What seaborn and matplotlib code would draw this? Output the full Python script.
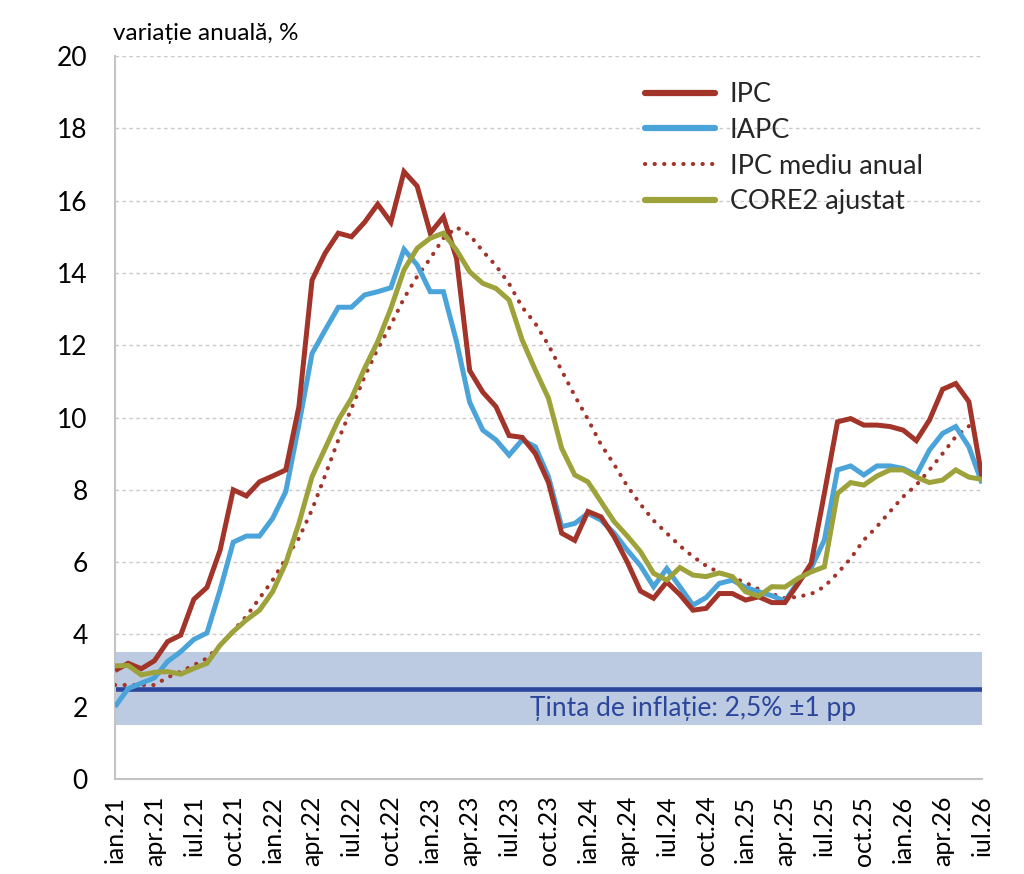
import numpy as np
import pandas as pd
import matplotlib
matplotlib.use("Agg")
import matplotlib.pyplot as plt
import matplotlib.transforms as mtransforms
import seaborn as sns

# ---------------- data ----------------
months = ["ian", "feb", "mar", "apr", "mai", "iun", "iul", "aug", "sep", "oct", "nov", "dec"]
years = [21, 22, 23, 24, 25, 26]
period_labels = [f"{m}.{y}" for y in years for m in months][:67]   # ian.21 .. iul.26

ipc = [3.0, 3.2, 3.05, 3.27, 3.8, 3.98, 4.97, 5.3, 6.33, 8.0, 7.83, 8.22,
       8.38, 8.55, 10.3, 13.8, 14.55, 15.1, 15.0, 15.4, 15.9, 15.4, 16.8, 16.4,
       15.1, 15.55, 14.4, 11.3, 10.7, 10.3, 9.5, 9.45, 9.0, 8.2, 6.8, 6.6,
       7.4, 7.25, 6.7, 6.0, 5.2, 5.0, 5.45, 5.1, 4.67, 4.72, 5.13, 5.13,
       4.95, 5.04, 4.88, 4.88, 5.4, 5.97, 7.9, 9.88, 9.97, 9.79, 9.79, 9.75,
       9.65, 9.36, 9.93, 10.78, 10.94, 10.44, 8.35]

iapc = [2.0, 2.5, 2.65, 2.8, 3.25, 3.52, 3.86, 4.04, 5.23, 6.55, 6.72, 6.72,
        7.21, 7.95, 9.8, 11.77, 12.42, 13.05, 13.05, 13.39, 13.48, 13.59, 14.65, 14.22,
        13.48, 13.48, 12.1, 10.42, 9.65, 9.38, 8.96, 9.38, 9.19, 8.36, 6.98, 7.07,
        7.35, 7.16, 6.8, 6.33, 5.9, 5.32, 5.82, 5.32, 4.81, 5.02, 5.41, 5.5,
        5.3, 5.18, 5.07, 4.92, 5.46, 5.84, 6.61, 8.55, 8.66, 8.41, 8.66, 8.66,
        8.59, 8.41, 9.1, 9.56, 9.75, 9.19, 8.18]

ipc_mediu = [2.6, 2.6, 2.6, 2.6, 2.81, 2.97, 3.15, 3.34, 3.7, 4.1, 4.5, 5.0,
             5.5, 6.1, 6.66, 7.45, 8.4, 9.38, 10.25, 11.13, 11.9, 12.56, 13.3, 13.9,
             14.4, 14.96, 15.26, 15.05, 14.6, 14.2, 13.7, 13.05, 12.6, 12.0, 11.3, 10.6,
             9.95, 9.25, 8.7, 8.1, 7.6, 7.15, 6.8, 6.45, 6.15, 5.9, 5.71, 5.58,
             5.43, 5.25, 5.12, 5.0, 5.04, 5.12, 5.32, 5.69, 6.1, 6.61, 6.98, 7.4,
             7.81, 8.13, 8.55, 9.0, 9.47, 9.76, np.nan]

core2 = [3.13, 3.14, 2.88, 2.95, 2.97, 2.9, 3.06, 3.2, 3.7, 4.08, 4.4, 4.67,
         5.18, 5.97, 7.07, 8.36, 9.15, 9.93, 10.53, 11.36, 12.1, 13.02, 14.08, 14.68,
         14.96, 15.1, 14.63, 14.03, 13.71, 13.57, 13.25, 12.14, 11.31, 10.53, 9.15, 8.41,
         8.22, 7.67, 7.12, 6.72, 6.29, 5.69, 5.5, 5.85, 5.64, 5.6, 5.7, 5.6,
         5.18, 5.06, 5.32, 5.31, 5.55, 5.73, 5.87, 7.9, 8.2, 8.13, 8.38, 8.55,
         8.55, 8.35, 8.2, 8.27, 8.55, 8.35, 8.29]

target = 2.5
target_band = 1.0
series_names = ["IPC", "IAPC", "IPC mediu anual", "CORE2 ajustat"]
y_ticks = [0, 2, 4, 6, 8, 10, 12, 14, 16, 18, 20]

# ---------------- style ----------------
sns.set_theme(style="white")
plt.rcParams["font.family"] = ["Lato", "DejaVu Sans"]

C_IPC = "#a2342a"
C_IAPC = "#4aa3d9"
C_CORE = "#9da23a"
C_TGT = "#2b469a"
C_BAND = "#bccbe2"
C_GRID = "#c8c8c8"
C_AXIS = "#c4c4c4"

fig = plt.figure(figsize=(10.24, 8.74), dpi=100)
ax = fig.add_axes([115 / 1024, 1 - 779 / 874, (982 - 115) / 1024, (779 - 56) / 874])

x = np.arange(len(period_labels))
df = pd.DataFrame({"t": x, "IPC": ipc, "IAPC": iapc,
                   "IPC mediu anual": ipc_mediu, "CORE2 ajustat": core2})

# target band and line
ax.axhspan(target - target_band, target + target_band, color=C_BAND, zorder=1, lw=0)
ax.axhline(target, color=C_TGT, lw=3.3, zorder=2)

# gridlines
for v in y_ticks[1:]:
    ax.axhline(v, color=C_GRID, lw=1.0, ls=(0, (2.5, 2.5)), zorder=0.5)

lw = 3.6
sns.lineplot(data=df, x="t", y="IPC", ax=ax, color=C_IPC, lw=lw, label=series_names[0], zorder=6)
sns.lineplot(data=df, x="t", y="IAPC", ax=ax, color=C_IAPC, lw=lw, label=series_names[1], zorder=5)
sns.lineplot(data=df, x="t", y="IPC mediu anual", ax=ax, color=C_IPC, lw=3.0,
             linestyle=(0, (0.05, 2.25)), dash_capstyle="round",
             label=series_names[2], zorder=4)
sns.lineplot(data=df, x="t", y="CORE2 ajustat", ax=ax, color=C_CORE, lw=lw,
             label=series_names[3], zorder=7)
for ln in ax.get_lines()[-4:]:
    ln.set_solid_capstyle("butt")
    ln.set_solid_joinstyle("miter")
ax.get_lines()[-2].set_dash_capstyle("round")

ax.set_xlim(0, len(period_labels) - 1)
ax.set_ylim(0, 20)
ax.set_yticks(y_ticks)
ax.set_yticklabels([str(v) for v in y_ticks], fontsize=19)
tick_pos = x[::3]
ax.set_xticks(tick_pos)
ax.set_xticklabels([period_labels[i] for i in tick_pos], rotation=90, fontsize=18)
ax.set_xlabel("")
ax.set_ylabel("")

for s in ["top", "right"]:
    ax.spines[s].set_visible(False)
for s in ["left", "bottom"]:
    ax.spines[s].set_color(C_AXIS)
    ax.spines[s].set_linewidth(1.5)
ax.tick_params(axis="y", direction="out", color=C_AXIS, width=1.2,
               length=8.6, pad=11, labelcolor="black")
ax.tick_params(axis="x", direction="out", color=C_AXIS, width=1.2,
               length=6, pad=6, labelcolor="black")

# axis title
ax.text(-0.002, 1.022, "variație anuală, %", transform=ax.transAxes,
        ha="left", va="baseline", fontsize=17.5, color="black")

# target annotation
trans = mtransforms.blended_transform_factory(ax.transAxes, ax.transData)
ax.text(0.479, 1.95, "Ținta de inflație: 2,5% ±1 pp", transform=trans,
        ha="left", va="center", fontsize=19, color=C_TGT, zorder=8)

leg = ax.legend(loc="upper left", bbox_to_anchor=(645 / 1024, 1 - 82 / 874),
                bbox_transform=fig.transFigure, frameon=False, fontsize=19.5,
                handlelength=2.6, handletextpad=0.52, labelspacing=0.4,
                borderaxespad=0, borderpad=0)
for h in leg.get_lines():
    h.set_linewidth(4.5)
    h.set_solid_capstyle("round")
leg.get_lines()[2].set_linewidth(3.0)

fig.savefig("out.png", dpi=100)
